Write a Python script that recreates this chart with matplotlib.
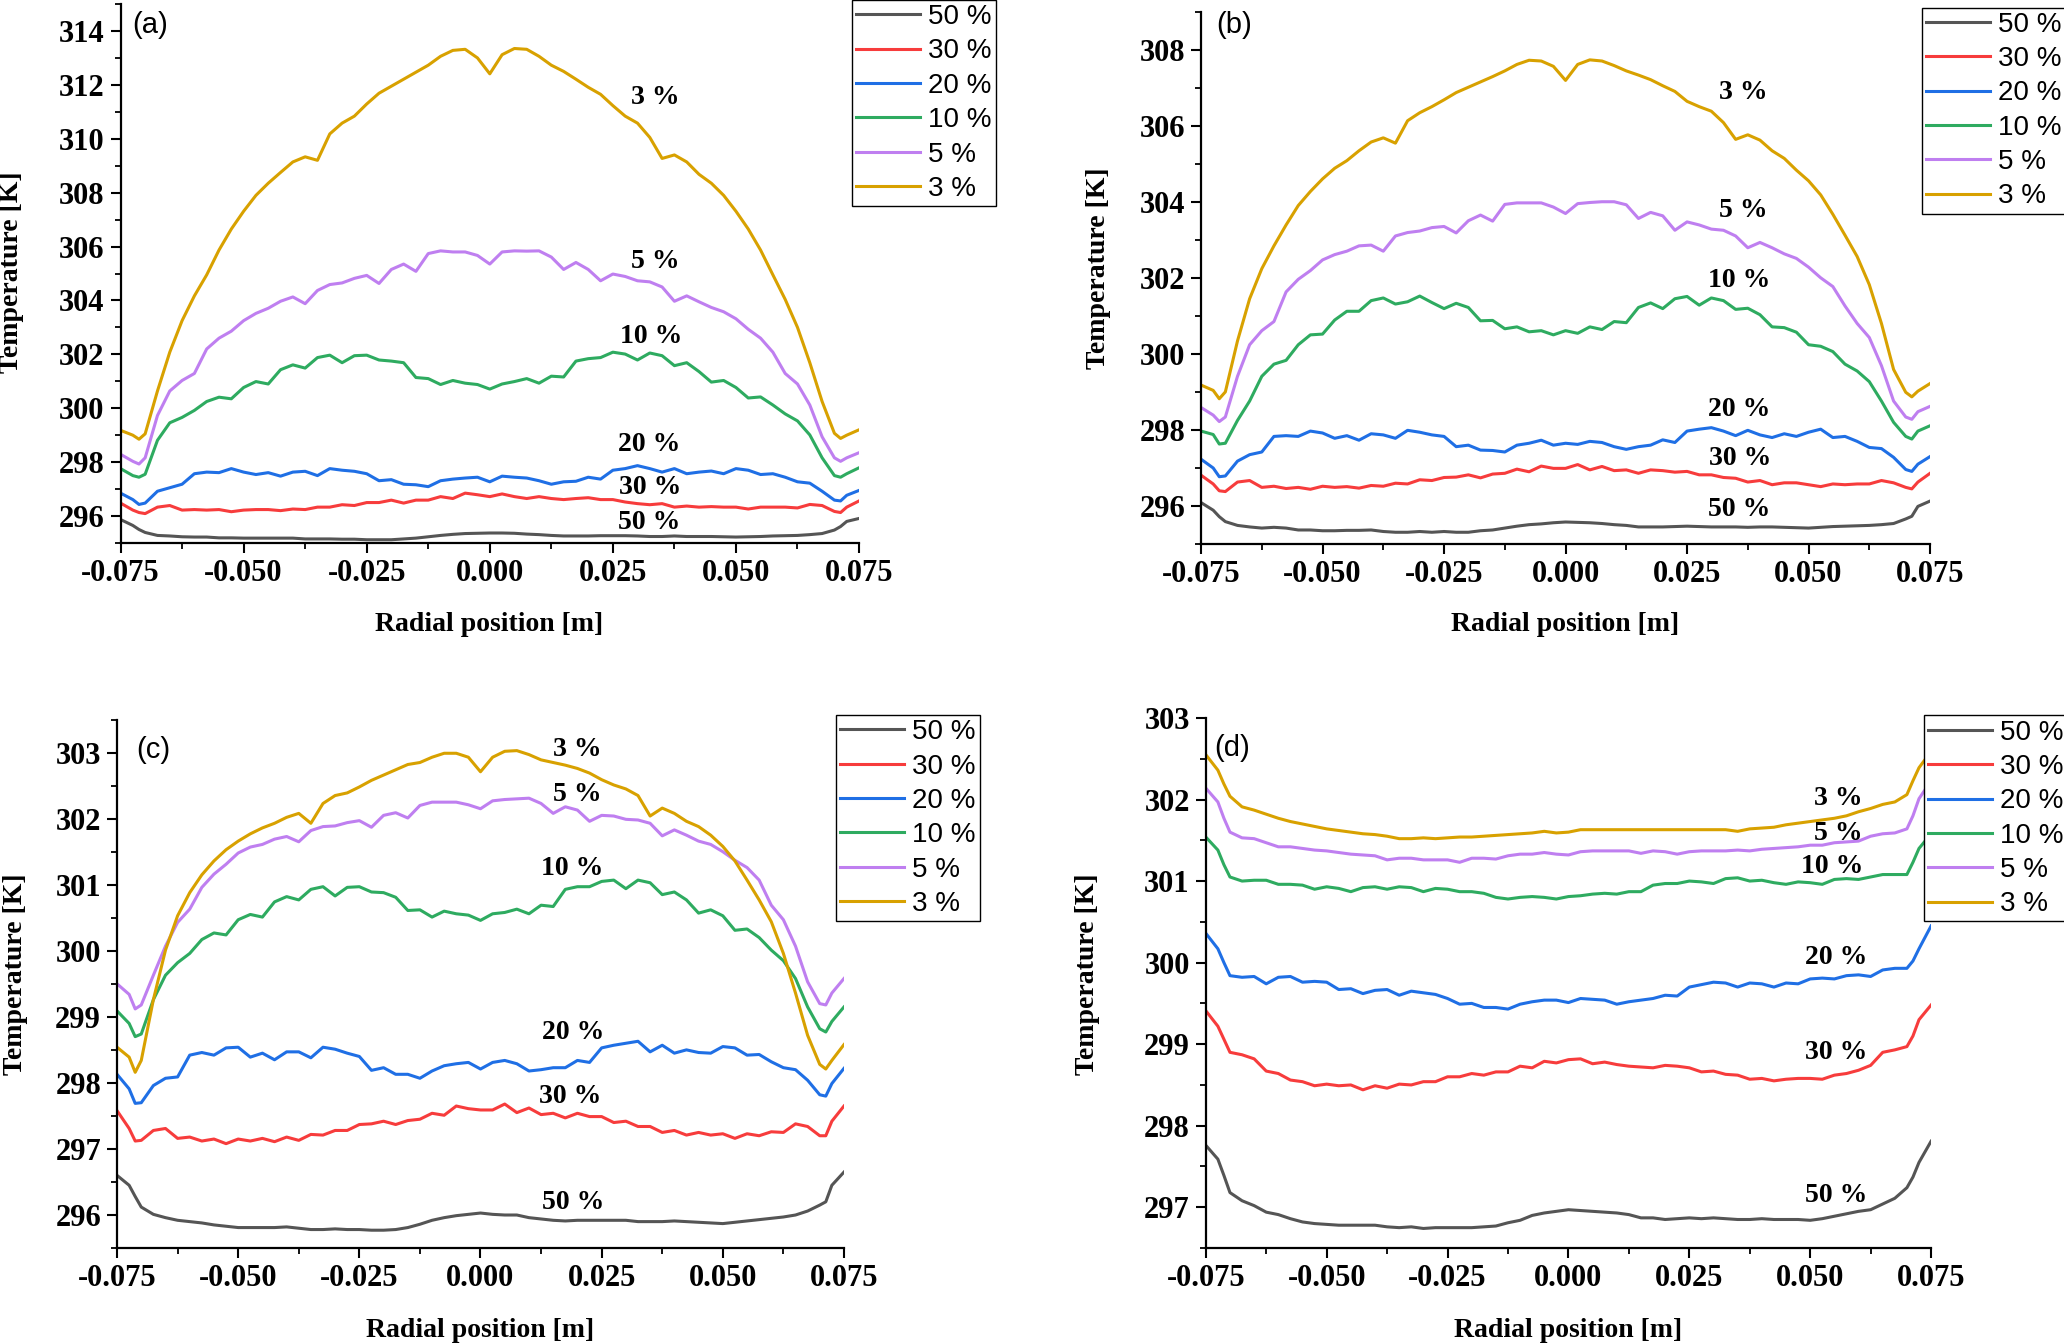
import numpy as np
import matplotlib
matplotlib.use('Agg')
import matplotlib.pyplot as plt
from matplotlib.ticker import MultipleLocator, FormatStrFormatter

# radial positions, one reading every 2.5 mm
x_pos = np.linspace(-0.075, 0.075, 61)
# extra readings at the two wall dips
edge_x = [-0.07125, 0.07125]

labels = ['50 %', '30 %', '20 %', '10 %', '5 %', '3 %']
colors = ['#555555', '#f73c3c', '#1f6fe5', '#2eab60', '#bf7ff0', '#d8a100']

# ---- panel (a) ----
a_50 = [295.87, 295.65, 295.39, 295.28, 295.26, 295.23, 295.22, 295.22, 295.19, 295.19,
        295.18, 295.18, 295.18, 295.18, 295.18, 295.15, 295.15, 295.15, 295.14, 295.14,
        295.12, 295.12, 295.12, 295.15, 295.18, 295.23, 295.28, 295.32, 295.35, 295.36,
        295.37, 295.37, 295.36, 295.33, 295.31, 295.28, 295.26, 295.26, 295.26, 295.27,
        295.27, 295.27, 295.26, 295.24, 295.24, 295.26, 295.24, 295.24, 295.24, 295.23,
        295.22, 295.23, 295.24, 295.26, 295.27, 295.28, 295.31, 295.35, 295.48, 295.80,
        295.91]
a_30 = [296.48, 296.22, 296.09, 296.33, 296.39, 296.22, 296.24, 296.22, 296.24, 296.16,
        296.22, 296.24, 296.24, 296.20, 296.26, 296.24, 296.33, 296.33, 296.42, 296.39,
        296.50, 296.50, 296.59, 296.48, 296.59, 296.59, 296.72, 296.65, 296.85, 296.79,
        296.72, 296.82, 296.72, 296.65, 296.72, 296.65, 296.61, 296.65, 296.68, 296.61,
        296.61, 296.52, 296.46, 296.42, 296.46, 296.33, 296.37, 296.33, 296.35, 296.33,
        296.33, 296.26, 296.33, 296.33, 296.33, 296.30, 296.43, 296.39, 296.17, 296.33,
        296.56]
a_20 = [296.85, 296.61, 296.48, 296.92, 297.05, 297.18, 297.57, 297.63, 297.61, 297.76,
        297.63, 297.54, 297.61, 297.48, 297.63, 297.66, 297.50, 297.76, 297.70, 297.66,
        297.57, 297.31, 297.35, 297.18, 297.16, 297.09, 297.31, 297.37, 297.41, 297.44,
        297.27, 297.48, 297.44, 297.41, 297.31, 297.18, 297.27, 297.29, 297.44, 297.37,
        297.70, 297.76, 297.87, 297.76, 297.63, 297.76, 297.57, 297.63, 297.67, 297.57,
        297.76, 297.70, 297.54, 297.57, 297.44, 297.27, 297.22, 296.92, 296.59, 296.77,
        296.95]
a_10 = [297.76, 297.50, 297.55, 298.81, 299.46, 299.66, 299.92, 300.25, 300.41, 300.35,
        300.77, 300.99, 300.90, 301.43, 301.61, 301.49, 301.88, 301.97, 301.69, 301.95,
        301.97, 301.79, 301.75, 301.69, 301.14, 301.10, 300.88, 301.03, 300.93, 300.88,
        300.71, 300.90, 300.99, 301.10, 300.93, 301.19, 301.16, 301.75, 301.84, 301.88,
        302.08, 302.01, 301.79, 302.05, 301.95, 301.58, 301.69, 301.36, 300.97, 301.03,
        300.77, 300.38, 300.42, 300.12, 299.79, 299.53, 299.01, 298.16, 297.50, 297.57,
        297.79]
a_5 = [298.29, 298.03, 298.16, 299.73, 300.64, 301.03, 301.29, 302.20, 302.60, 302.86,
       303.25, 303.52, 303.71, 303.97, 304.13, 303.88, 304.37, 304.59, 304.65, 304.82,
       304.93, 304.63, 305.15, 305.35, 305.08, 305.74, 305.84, 305.80, 305.80, 305.67,
       305.35, 305.80, 305.84, 305.83, 305.84, 305.61, 305.15, 305.41, 305.15, 304.73,
       304.98, 304.89, 304.73, 304.69, 304.50, 303.97, 304.17, 303.95, 303.74, 303.58,
       303.32, 302.93, 302.60, 302.08, 301.29, 300.90, 300.12, 298.94, 298.16, 298.16,
       298.35]
a_3 = [299.18, 299.00, 299.05, 300.64, 302.08, 303.25, 304.17, 304.95, 305.87, 306.65,
       307.31, 307.90, 308.35, 308.75, 309.14, 309.33, 309.20, 310.18, 310.58, 310.84,
       311.29, 311.69, 311.95, 312.21, 312.47, 312.73, 313.06, 313.28, 313.32, 313.00,
       312.41, 313.12, 313.35, 313.32, 313.06, 312.73, 312.50, 312.21, 311.91, 311.65,
       311.23, 310.84, 310.58, 310.05, 309.27, 309.40, 309.14, 308.68, 308.35, 307.90,
       307.31, 306.65, 305.87, 304.95, 304.04, 303.00, 301.69, 300.25, 299.07, 299.00,
       299.20]
a_edge_l = [295.50, 296.13, 296.43, 297.44, 297.93, 298.85]
a_edge_r = [295.61, 296.13, 296.56, 297.44, 298.03, 298.88]
a_lab_x = [0.0323, 0.0325, 0.0323, 0.0327, 0.0336, 0.0336]
a_lab_y = [295.76, 297.05, 298.65, 302.67, 305.44, 311.52]

# ---- panel (b) ----
b_50 = [296.09, 295.89, 295.59, 295.49, 295.45, 295.42, 295.44, 295.42, 295.37, 295.37,
        295.35, 295.35, 295.36, 295.36, 295.37, 295.33, 295.31, 295.31, 295.33, 295.31,
        295.33, 295.31, 295.31, 295.35, 295.37, 295.42, 295.47, 295.51, 295.53, 295.56,
        295.58, 295.57, 295.56, 295.54, 295.51, 295.49, 295.45, 295.45, 295.45, 295.46,
        295.47, 295.46, 295.45, 295.45, 295.45, 295.44, 295.45, 295.45, 295.44, 295.43,
        295.42, 295.44, 295.46, 295.47, 295.48, 295.49, 295.51, 295.54, 295.66, 295.99,
        296.13]
b_30 = [296.81, 296.58, 296.38, 296.63, 296.67, 296.49, 296.52, 296.46, 296.49, 296.44,
        296.52, 296.49, 296.51, 296.47, 296.54, 296.52, 296.60, 296.58, 296.69, 296.67,
        296.75, 296.76, 296.82, 296.74, 296.84, 296.86, 296.97, 296.90, 297.05, 296.99,
        296.99, 297.09, 296.95, 297.04, 296.93, 296.95, 296.86, 296.95, 296.93, 296.89,
        296.91, 296.82, 296.82, 296.75, 296.73, 296.63, 296.67, 296.56, 296.61, 296.61,
        296.56, 296.51, 296.58, 296.56, 296.58, 296.58, 296.67, 296.61, 296.49, 296.63,
        296.86]
b_20 = [297.23, 297.00, 296.79, 297.18, 297.35, 297.42, 297.83, 297.85, 297.83, 297.97,
        297.92, 297.78, 297.85, 297.73, 297.90, 297.87, 297.78, 297.99, 297.94, 297.87,
        297.83, 297.56, 297.60, 297.47, 297.46, 297.42, 297.60, 297.65, 297.73, 297.60,
        297.65, 297.62, 297.70, 297.67, 297.56, 297.49, 297.56, 297.60, 297.74, 297.67,
        297.97, 298.02, 298.06, 297.97, 297.85, 297.99, 297.87, 297.80, 297.90, 297.83,
        297.94, 298.02, 297.80, 297.83, 297.70, 297.54, 297.51, 297.28, 296.96, 297.10,
        297.30]
b_10 = [297.97, 297.88, 297.65, 298.25, 298.76, 299.41, 299.73, 299.83, 300.24, 300.50,
        300.52, 300.89, 301.12, 301.12, 301.40, 301.47, 301.31, 301.37, 301.52, 301.35,
        301.19, 301.33, 301.22, 300.87, 300.88, 300.66, 300.71, 300.58, 300.61, 300.50,
        300.61, 300.54, 300.71, 300.64, 300.85, 300.82, 301.22, 301.34, 301.19, 301.45,
        301.51, 301.28, 301.47, 301.40, 301.17, 301.20, 301.03, 300.71, 300.69, 300.57,
        300.24, 300.20, 300.06, 299.73, 299.55, 299.27, 298.76, 298.20, 297.83, 297.97,
        298.11]
b_5 = [298.59, 298.39, 298.34, 299.41, 300.24, 300.61, 300.85, 301.63, 301.96, 302.19,
       302.47, 302.61, 302.70, 302.84, 302.86, 302.70, 303.10, 303.19, 303.23, 303.32,
       303.35, 303.18, 303.50, 303.65, 303.49, 303.93, 303.97, 303.97, 303.97, 303.86,
       303.69, 303.95, 303.98, 304.00, 304.00, 303.92, 303.56, 303.72, 303.63, 303.25,
       303.47, 303.39, 303.28, 303.25, 303.10, 302.79, 302.93, 302.79, 302.63, 302.51,
       302.28, 302.00, 301.77, 301.26, 300.80, 300.43, 299.69, 298.76, 298.34, 298.48,
       298.62]
b_3 = [299.18, 299.04, 299.00, 300.34, 301.45, 302.24, 302.84, 303.39, 303.90, 304.27,
       304.60, 304.88, 305.08, 305.34, 305.57, 305.68, 305.54, 306.13, 306.34, 306.50,
       306.68, 306.87, 307.01, 307.15, 307.29, 307.44, 307.61, 307.72, 307.70, 307.56,
       307.19, 307.61, 307.73, 307.70, 307.58, 307.44, 307.33, 307.21, 307.05, 306.90,
       306.64, 306.50, 306.38, 306.08, 305.64, 305.76, 305.62, 305.34, 305.14, 304.83,
       304.55, 304.18, 303.67, 303.12, 302.56, 301.82, 300.80, 299.59, 298.99, 299.02,
       299.22]
b_edge_l = [295.72, 296.40, 296.77, 297.63, 298.22, 298.82]
b_edge_r = [295.73, 296.45, 296.91, 297.76, 298.28, 298.87]
b_lab_x = [0.0357, 0.0359, 0.0357, 0.0357, 0.0366, 0.0366]
b_lab_y = [295.91, 297.26, 298.53, 301.93, 303.78, 306.87]

# ---- panel (c) ----
c_50 = [296.60, 296.45, 296.12, 296.01, 295.96, 295.92, 295.90, 295.88, 295.85, 295.83,
        295.81, 295.81, 295.81, 295.81, 295.82, 295.80, 295.78, 295.78, 295.79, 295.78,
        295.78, 295.77, 295.77, 295.78, 295.81, 295.86, 295.92, 295.96, 295.99, 296.01,
        296.03, 296.01, 296.00, 296.00, 295.96, 295.94, 295.92, 295.91, 295.92, 295.92,
        295.92, 295.92, 295.92, 295.90, 295.90, 295.90, 295.91, 295.90, 295.89, 295.88,
        295.87, 295.89, 295.91, 295.93, 295.95, 295.97, 296.00, 296.06, 296.15, 296.45,
        296.65]
c_30 = [297.58, 297.31, 297.13, 297.28, 297.31, 297.16, 297.18, 297.12, 297.15, 297.08,
        297.15, 297.12, 297.16, 297.11, 297.18, 297.13, 297.22, 297.21, 297.28, 297.28,
        297.37, 297.38, 297.42, 297.37, 297.43, 297.45, 297.54, 297.51, 297.65, 297.61,
        297.59, 297.59, 297.68, 297.55, 297.62, 297.52, 297.54, 297.47, 297.54, 297.49,
        297.49, 297.40, 297.42, 297.34, 297.34, 297.25, 297.28, 297.21, 297.25, 297.21,
        297.23, 297.16, 297.23, 297.20, 297.26, 297.25, 297.38, 297.34, 297.20, 297.42,
        297.65]
c_20 = [298.13, 297.91, 297.70, 297.96, 298.07, 298.09, 298.42, 298.46, 298.42, 298.53,
        298.54, 298.39, 298.45, 298.35, 298.47, 298.47, 298.38, 298.54, 298.51, 298.45,
        298.40, 298.19, 298.23, 298.13, 298.13, 298.07, 298.18, 298.26, 298.29, 298.31,
        298.21, 298.31, 298.34, 298.29, 298.18, 298.20, 298.23, 298.23, 298.34, 298.31,
        298.53, 298.57, 298.60, 298.63, 298.47, 298.57, 298.45, 298.50, 298.46, 298.45,
        298.55, 298.53, 298.42, 298.43, 298.32, 298.23, 298.20, 298.04, 297.82, 297.99,
        298.22]
c_10 = [299.09, 298.90, 298.74, 299.26, 299.63, 299.82, 299.96, 300.17, 300.27, 300.24,
        300.47, 300.55, 300.51, 300.74, 300.82, 300.77, 300.93, 300.97, 300.83, 300.96,
        300.97, 300.89, 300.88, 300.81, 300.61, 300.62, 300.51, 300.60, 300.56, 300.54,
        300.46, 300.56, 300.58, 300.63, 300.56, 300.69, 300.67, 300.93, 300.97, 300.97,
        301.05, 301.07, 300.94, 301.07, 301.03, 300.85, 300.89, 300.77, 300.57, 300.62,
        300.53, 300.31, 300.33, 300.20, 300.01, 299.85, 299.58, 299.15, 298.82, 298.93,
        299.15]
c_5 = [299.50, 299.34, 299.18, 299.63, 300.07, 300.43, 300.63, 300.96, 301.16, 301.31,
       301.48, 301.57, 301.61, 301.69, 301.73, 301.65, 301.82, 301.88, 301.89, 301.94,
       301.97, 301.87, 302.05, 302.09, 302.01, 302.20, 302.25, 302.25, 302.25, 302.21,
       302.15, 302.27, 302.29, 302.30, 302.31, 302.23, 302.08, 302.18, 302.13, 301.96,
       302.05, 302.04, 301.99, 301.98, 301.93, 301.74, 301.83, 301.75, 301.66, 301.61,
       301.50, 301.37, 301.26, 301.07, 300.69, 300.47, 300.07, 299.53, 299.20, 299.36,
       299.58]
c_3 = [298.54, 298.39, 298.34, 299.26, 300.01, 300.53, 300.88, 301.15, 301.36, 301.53,
       301.66, 301.77, 301.86, 301.93, 302.02, 302.08, 301.93, 302.23, 302.35, 302.39,
       302.48, 302.58, 302.66, 302.74, 302.82, 302.85, 302.93, 302.99, 302.99, 302.93,
       302.71, 302.93, 303.02, 303.03, 302.97, 302.89, 302.85, 302.81, 302.76, 302.69,
       302.59, 302.51, 302.45, 302.35, 302.04, 302.16, 302.08, 301.96, 301.88, 301.75,
       301.58, 301.36, 301.07, 300.77, 300.44, 299.96, 299.36, 298.72, 298.28, 298.34,
       298.58]
c_edge_l = [296.28, 297.12, 297.69, 298.70, 299.12, 298.16]
c_edge_r = [296.20, 297.20, 297.80, 298.77, 299.18, 298.21]
c_lab_x = [0.0191, 0.0185, 0.0191, 0.0189, 0.0199, 0.0199]
c_lab_y = [296.19, 297.79, 298.76, 301.24, 302.36, 303.05]

# ---- panel (d) ----
d_50 = [297.76, 297.59, 297.18, 297.08, 297.02, 296.94, 296.91, 296.86, 296.82, 296.80,
        296.79, 296.78, 296.78, 296.78, 296.78, 296.76, 296.75, 296.76, 296.74, 296.75,
        296.75, 296.75, 296.75, 296.76, 296.77, 296.81, 296.84, 296.90, 296.93, 296.95,
        296.97, 296.96, 296.95, 296.94, 296.93, 296.91, 296.87, 296.87, 296.85, 296.86,
        296.87, 296.86, 296.87, 296.86, 296.85, 296.85, 296.86, 296.85, 296.85, 296.85,
        296.84, 296.86, 296.89, 296.92, 296.95, 296.97, 297.04, 297.11, 297.24, 297.55,
        297.81]
d_30 = [299.41, 299.22, 298.90, 298.87, 298.82, 298.67, 298.64, 298.56, 298.54, 298.49,
        298.51, 298.49, 298.50, 298.44, 298.49, 298.46, 298.51, 298.50, 298.54, 298.54,
        298.60, 298.60, 298.64, 298.62, 298.66, 298.66, 298.73, 298.71, 298.79, 298.77,
        298.81, 298.82, 298.76, 298.78, 298.75, 298.73, 298.72, 298.71, 298.74, 298.73,
        298.71, 298.66, 298.67, 298.63, 298.62, 298.57, 298.58, 298.55, 298.57, 298.58,
        298.58, 298.57, 298.62, 298.64, 298.68, 298.74, 298.90, 298.93, 298.97, 299.30,
        299.48]
d_20 = [300.36, 300.17, 299.84, 299.82, 299.83, 299.74, 299.82, 299.83, 299.76, 299.77,
        299.76, 299.67, 299.68, 299.62, 299.66, 299.67, 299.60, 299.65, 299.63, 299.61,
        299.56, 299.49, 299.50, 299.45, 299.45, 299.43, 299.49, 299.52, 299.54, 299.54,
        299.51, 299.56, 299.55, 299.54, 299.49, 299.52, 299.54, 299.56, 299.60, 299.59,
        299.70, 299.73, 299.76, 299.75, 299.70, 299.75, 299.74, 299.70, 299.75, 299.74,
        299.80, 299.81, 299.80, 299.84, 299.85, 299.83, 299.91, 299.93, 299.93, 300.17,
        300.45]
d_10 = [301.54, 301.38, 301.05, 301.00, 301.01, 301.01, 300.96, 300.96, 300.95, 300.90,
        300.93, 300.91, 300.87, 300.92, 300.93, 300.90, 300.93, 300.92, 300.87, 300.91,
        300.90, 300.87, 300.87, 300.85, 300.80, 300.78, 300.80, 300.81, 300.80, 300.78,
        300.81, 300.82, 300.84, 300.85, 300.84, 300.87, 300.87, 300.95, 300.97, 300.97,
        301.00, 300.99, 300.97, 301.03, 301.04, 301.00, 301.01, 300.98, 300.96, 300.99,
        300.98, 300.96, 301.02, 301.03, 301.02, 301.05, 301.08, 301.08, 301.08, 301.40,
        301.58]
d_5 = [302.14, 301.97, 301.60, 301.53, 301.52, 301.47, 301.42, 301.42, 301.40, 301.38,
       301.37, 301.35, 301.33, 301.32, 301.31, 301.26, 301.28, 301.28, 301.26, 301.26,
       301.26, 301.23, 301.28, 301.28, 301.27, 301.31, 301.33, 301.33, 301.35, 301.33,
       301.32, 301.36, 301.37, 301.37, 301.37, 301.37, 301.34, 301.37, 301.36, 301.33,
       301.36, 301.37, 301.37, 301.37, 301.38, 301.37, 301.39, 301.40, 301.41, 301.42,
       301.44, 301.44, 301.47, 301.48, 301.49, 301.55, 301.58, 301.59, 301.64, 302.01,
       302.23]
d_3 = [302.55, 302.36, 302.04, 301.91, 301.87, 301.82, 301.77, 301.73, 301.70, 301.67,
       301.64, 301.62, 301.60, 301.58, 301.57, 301.55, 301.52, 301.52, 301.53, 301.52,
       301.53, 301.54, 301.54, 301.55, 301.56, 301.57, 301.58, 301.59, 301.61, 301.59,
       301.60, 301.63, 301.63, 301.63, 301.63, 301.63, 301.63, 301.63, 301.63, 301.63,
       301.63, 301.63, 301.63, 301.63, 301.61, 301.64, 301.65, 301.66, 301.69, 301.71,
       301.73, 301.75, 301.77, 301.80, 301.85, 301.89, 301.94, 301.97, 302.06, 302.39,
       302.59]
d_edge_l = [297.39, 299.06, 300.00, 301.20, 301.77, 302.19]
d_edge_r = [297.37, 299.10, 300.02, 301.23, 301.80, 302.23]
d_lab_x = [0.0553, 0.0554, 0.0553, 0.0546, 0.0558, 0.0558]
d_lab_y = [297.15, 298.90, 300.06, 301.18, 301.58, 302.01]


plt.rcParams['font.family'] = 'Liberation Serif'
plt.rcParams['font.weight'] = 'bold'
plt.rcParams['axes.unicode_minus'] = False

fig = plt.figure(figsize=(20.64, 13.44), dpi=100)

xs = np.sort(np.concatenate([x_pos, edge_x]))

# rect, ylim, major, minor, curves, wall dips, tag, tag pos, legend corner, ylabel pos, xlabel pos, label pos
panels = [
    ([0.0584, 0.5960, 0.3578, 0.4010], (295, 315), 2, 1, [a_50, a_30, a_20, a_10, a_5, a_3],
     (a_edge_l, a_edge_r), '(a)', (0.0165, 0.962), (0.4128, 1.0), (0.0058, 0.7972),
     (0.2369, 0.5350), (a_lab_x, a_lab_y)),
    ([0.5819, 0.5952, 0.3532, 0.3962], (295, 309), 2, 1, [b_50, b_30, b_20, b_10, b_5, b_3],
     (b_edge_l, b_edge_r), '(b)', (0.0206, 0.975), (0.9312, 0.9943), (0.5320, 0.8006),
     (0.7582, 0.5350), (b_lab_x, b_lab_y)),
    ([0.0567, 0.0714, 0.3522, 0.3932], (295.5, 303.5), 1, 0.5, [c_50, c_30, c_20, c_10, c_5, c_3],
     (c_edge_l, c_edge_r), '(c)', (0.026, 0.942), (0.4050, 0.4680), (0.0073, 0.2748),
     (0.2326, 0.0097), (c_lab_x, c_lab_y)),
    ([0.5842, 0.0714, 0.3514, 0.3944], (296.5, 303), 1, 0.5, [d_50, d_30, d_20, d_10, d_5, d_3],
     (d_edge_l, d_edge_r), '(d)', (0.0114, 0.943), (0.9322, 0.4677), (0.5271, 0.2748),
     (0.7599, 0.0097), (d_lab_x, d_lab_y)),
]

for rect, ylim, major, minor, curves, edges, tag, tagpos, legpos, ylpos, xlpos, labpos in panels:
    ax = fig.add_axes(rect)
    lines = []
    for k, (y, c) in enumerate(zip(curves, colors)):
        ys = np.insert(np.array(y, dtype=float), [2, 59], [edges[0][k], edges[1][k]])
        ln, = ax.plot(xs, ys, color=c, lw=2.2)
        lines.append(ln)

    ax.set_xlim(-0.075, 0.075)
    ax.set_ylim(*ylim)
    ax.xaxis.set_major_locator(MultipleLocator(0.025))
    ax.xaxis.set_minor_locator(MultipleLocator(0.0125))
    ax.xaxis.set_major_formatter(FormatStrFormatter('%.3f'))
    ax.yaxis.set_major_locator(MultipleLocator(major))
    ax.yaxis.set_minor_locator(MultipleLocator(minor))
    ax.yaxis.set_major_formatter(FormatStrFormatter('%d'))
    ax.spines['top'].set_visible(False)
    ax.spines['right'].set_visible(False)
    ax.spines['left'].set_linewidth(1.6)
    ax.spines['bottom'].set_linewidth(1.6)
    ax.tick_params(which='major', direction='out', length=7.5, width=1.5, labelsize=22, pad=4)
    ax.tick_params(which='minor', direction='out', length=4.5, width=1.3)

    for lab, lx, ly in zip(labels, labpos[0], labpos[1]):
        ax.text(lx, ly, lab, ha='center', va='center', fontsize=20,
                family='Liberation Serif', weight='bold')

    ax.text(tagpos[0], tagpos[1], tag, transform=ax.transAxes, ha='left', va='center',
            fontsize=21, family='Liberation Sans', weight='normal')

    ax.legend(lines, labels, loc='upper left', bbox_to_anchor=legpos,
              bbox_transform=fig.transFigure, borderaxespad=0,
              prop={'family': 'Liberation Sans', 'size': 20, 'weight': 'normal'},
              frameon=True, fancybox=False, edgecolor='black', framealpha=1,
              borderpad=0.15, handlelength=2.3, handletextpad=0.3, labelspacing=0.3)
    ax.get_legend().get_frame().set_linewidth(1.0)

    fig.text(ylpos[0], ylpos[1], 'Temperature [K]', rotation=90, ha='center', va='center',
             fontsize=20, family='Liberation Serif', weight='bold')
    fig.text(xlpos[0], xlpos[1], 'Radial position [m]', ha='center', va='center',
             fontsize=20, family='Liberation Serif', weight='bold')

fig.savefig('out.png', dpi=100)
